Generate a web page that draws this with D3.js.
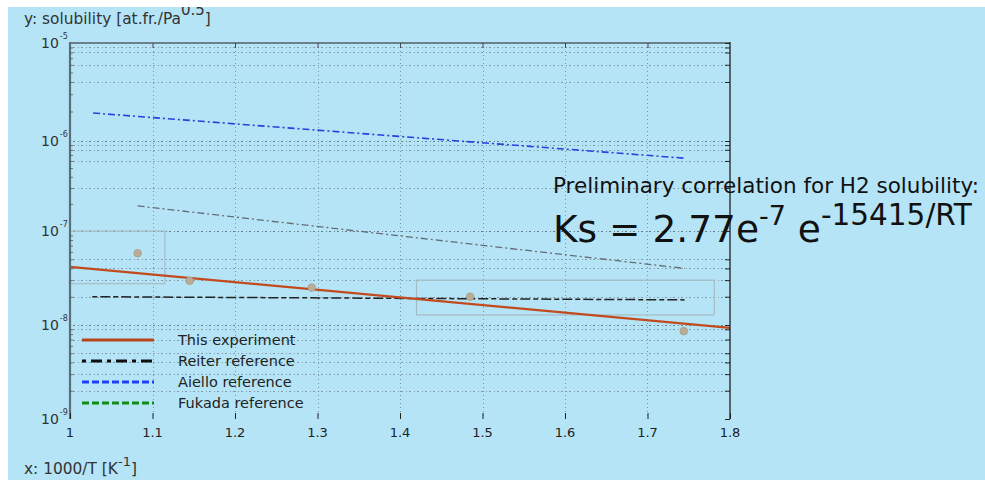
<!DOCTYPE html>
<html><head><meta charset="utf-8">
<script src="https://cdn.jsdelivr.net/npm/d3@7"></script>
<style>
html,body{margin:0;padding:0;background:#fff;}
svg{display:block;}
text{font-family:"DejaVu Sans",Verdana,sans-serif;}
</style></head>
<body><svg id="c" width="985" height="480"></svg>
<script>
// ---- data ----
const xTicks = [1, 1.1, 1.2, 1.3, 1.4, 1.5, 1.6, 1.7, 1.8];
const xTickLabels = ["1", "1.1", "1.2", "1.3", "1.4", "1.5", "1.6", "1.7", "1.8"];
const yTickExps = [-5, -6, -7, -8, -9];
const yGridVals = [9e-6, 8e-6, 6e-6, 4e-6, 9e-7, 8e-7, 6e-7, 3e-7, 5e-8, 4e-8, 3e-8, 2e-8, 9e-9, 7e-9, 5e-9, 4e-9, 3e-9, 2e-9];
const measX = [1.082, 1.145, 1.293, 1.485, 1.744];
const measY = [5.8e-8, 2.95e-8, 2.5e-8, 2.0e-8, 8.6e-9];
const fitX = [1.0, 1.8];
const fitY = [4.15e-8, 9.3e-9];
const reiterX = [1.027, 1.745];
const reiterY = [2.0e-8, 1.85e-8];
const aielloX = [1.028, 1.744];
const aielloY = [1.93e-6, 6.45e-7];
const fukadaX = [1.082, 1.745];
const fukadaY = [1.9e-7, 4.0e-8];
const boxX0 = [1.0, 1.42];
const boxX1 = [1.115, 1.781];
const boxY0 = [1.0e-7, 3.0e-8];
const boxY1 = [2.75e-8, 1.28e-8];
const legendLabels = ["This experiment", "Reiter reference", "Aiello reference", "Fukada reference"];

// ---- layout ----
const svg = d3.select("#c");
const W = 985, H = 480;
const L = 70, R = 730, T = 43, B = 419;
const x = d3.scaleLinear().domain([1, 1.8]).range([L, R]);
const majorVals = yTickExps.map(e => Math.pow(10, e));
const y = d3.scaleLog().domain(majorVals.slice().reverse()).range([B, 325, 231, 141, T]);

svg.append("rect").attr("width", W).attr("height", H).attr("fill", "#b5e4f7");

// grid
const grid = svg.append("g");
const minorVals = [];
for (let e = -9; e < -5; e++) for (let m = 2; m <= 9; m++) minorVals.push(m * Math.pow(10, e));
grid.selectAll("line.hm").data(yGridVals).join("line")
  .attr("x1", L).attr("x2", R).attr("y1", d => Math.round(y(d)) + 0.5).attr("y2", d => Math.round(y(d)) + 0.5)
  .attr("stroke", "#55616b").attr("stroke-opacity", 0.55).attr("stroke-width", 1)
  .attr("stroke-dasharray", "1,2,2,3");
grid.selectAll("line.hM").data(majorVals.slice(1, 4)).join("line")
  .attr("x1", L).attr("x2", R).attr("y1", d => Math.round(y(d)) + 0.5).attr("y2", d => Math.round(y(d)) + 0.5)
  .attr("stroke", "#3a4650").attr("stroke-opacity", 0.65).attr("stroke-width", 1)
  .attr("stroke-dasharray", "1,2,2,3");
grid.selectAll("line.v").data(xTicks.slice(1, 8)).join("line")
  .attr("x1", d => Math.round(x(d)) + 0.5).attr("x2", d => Math.round(x(d)) + 0.5).attr("y1", T).attr("y2", B)
  .attr("stroke", "#4a5660").attr("stroke-opacity", 0.55).attr("stroke-width", 1)
  .attr("stroke-dasharray", "1,3");

// boxes
svg.append("g").selectAll("rect").data(boxX0).join("rect")
  .attr("x", (d, i) => x(d)).attr("y", (d, i) => y(boxY0[i]))
  .attr("width", (d, i) => x(boxX1[i]) - x(d)).attr("height", (d, i) => y(boxY1[i]) - y(boxY0[i]))
  .attr("fill", "none").attr("stroke", "#a6bcc4").attr("stroke-width", 1.2);

// annotation text (under frame)
const ann = svg.append("g").attr("fill", "#111");
ann.append("text").attr("x", 553).attr("y", 193).attr("font-size", 21.5)
  .text("Preliminary correlation for H2 solubility:");
const t2 = ann.append("text").attr("x", 553).attr("y", 242).attr("font-size", 37.5);
t2.append("tspan").text("Ks = 2.77e");
t2.append("tspan").attr("font-size", 27).attr("dy", -17).text("-7");
t2.append("tspan").attr("dy", 17).text(" e");
t2.append("tspan").attr("font-size", 29.5).attr("dy", -17).text("-15415/RT");

// series lines
const lineGen = d3.line().x(d => x(d[0])).y(d => y(d[1]));
const zipS = (xs, ys) => xs.map((v, i) => [v, ys[i]]);
svg.append("path").datum(zipS(aielloX, aielloY)).attr("d", lineGen)
  .attr("fill", "none").attr("stroke", "#2740e0").attr("stroke-width", 1.6).attr("stroke-dasharray", "7,3,2,3");
svg.append("path").datum(zipS(fukadaX, fukadaY)).attr("d", lineGen)
  .attr("fill", "none").attr("stroke", "#646c74").attr("stroke-width", 1.3).attr("stroke-dasharray", "7,3,2,3");
svg.append("path").datum(zipS(reiterX, reiterY)).attr("d", lineGen)
  .attr("fill", "none").attr("stroke", "#222").attr("stroke-width", 1.5).attr("stroke-dasharray", "5,3,10,3");
svg.append("path").datum(zipS(fitX, fitY)).attr("d", lineGen)
  .attr("fill", "none").attr("stroke", "#c24a1c").attr("stroke-width", 2.2);

// measured points
svg.append("g").selectAll("circle").data(measX).join("circle")
  .attr("cx", d => x(d)).attr("cy", (d, i) => y(measY[i])).attr("r", 3.8)
  .attr("fill", "#b9ad98").attr("stroke", "#a89c88").attr("stroke-width", 0.8);

// frame
svg.append("line").attr("x1", L).attr("x2", R).attr("y1", T).attr("y2", T)
  .attr("stroke", "#6b7f8b").attr("stroke-width", 2);
svg.append("line").attr("x1", L).attr("x2", L).attr("y1", T - 1).attr("y2", B)
  .attr("stroke", "#5b6f7b").attr("stroke-width", 2.2);
svg.append("line").attr("x1", R).attr("x2", R).attr("y1", T - 1).attr("y2", B)
  .attr("stroke", "#111").attr("stroke-width", 1.2);

// axes ticks
const xAxB = d3.axisBottom(x).tickValues(xTicks).tickSize(-6).tickFormat("");
svg.append("g").attr("transform", `translate(0,${B})`).call(xAxB)
  .call(g => { g.select(".domain").remove(); g.selectAll("line").attr("stroke", "#222"); });
const xAxT = d3.axisTop(x).tickValues(xTicks.slice(1, 8)).tickSize(-5).tickFormat("");
svg.append("g").attr("transform", `translate(0,${T})`).call(xAxT)
  .call(g => { g.select(".domain").remove(); g.selectAll("line").attr("stroke", "#445"); });
const yAxL = d3.axisLeft(y).tickValues(minorVals).tickSize(-3).tickFormat("");
svg.append("g").attr("transform", `translate(${L},0)`).call(yAxL)
  .call(g => { g.select(".domain").remove(); g.selectAll("line").attr("stroke", "#444").attr("stroke-opacity", 0.7); });
const yAxR = d3.axisRight(y).tickValues(yGridVals.concat(majorVals)).tickSize(-5).tickFormat("");
svg.append("g").attr("transform", `translate(${R},0)`).call(yAxR)
  .call(g => { g.select(".domain").remove(); g.selectAll("line").attr("stroke", "#222"); });

// x tick labels
svg.append("g").selectAll("text").data(xTicks).join("text")
  .attr("x", d => x(d)).attr("y", 437).attr("text-anchor", "middle")
  .attr("font-size", 13).attr("fill", "#222").text((d, i) => xTickLabels[i]);

// y tick labels
const yl = svg.append("g").selectAll("text").data(yTickExps).join("text")
  .attr("x", 41).attr("y", d => y(Math.pow(10, d)) + 5).attr("font-size", 14).attr("fill", "#333");
yl.append("tspan").text("10");
yl.append("tspan").attr("font-size", 8).attr("dy", -9).attr("dx", 1).text(d => String(d));

// legend
const lg = svg.append("g");
const lgY = [340, 361, 382, 403];
const lgStyles = [
  {c: "#b5471a", dash: null, w: 3.2},
  {c: "#111", dash: "4,5,11,5", w: 3},
  {c: "#1f3ff5", dash: "7,3", w: 3},
  {c: "#118a18", dash: "7,3", w: 3}
];
lg.selectAll("line").data(legendLabels).join("line")
  .attr("x1", 82).attr("x2", 154).attr("y1", (d, i) => lgY[i]).attr("y2", (d, i) => lgY[i])
  .attr("stroke", (d, i) => lgStyles[i].c).attr("stroke-width", (d, i) => lgStyles[i].w)
  .attr("stroke-dasharray", (d, i) => lgStyles[i].dash);
lg.selectAll("text").data(legendLabels).join("text")
  .attr("x", 178).attr("y", (d, i) => lgY[i] + 5).attr("font-size", 14.5).attr("fill", "#222").text(d => d);

// axis titles
const yt = svg.append("text").attr("x", 24).attr("y", 24).attr("font-size", 15.4).attr("fill", "#333");
yt.append("tspan").text("y: solubility [at.fr./Pa");
yt.append("tspan").attr("font-size", 15).attr("dy", -9).text("0.5");
yt.append("tspan").attr("dy", 9).text("]");
const xt = svg.append("text").attr("x", 24).attr("y", 474).attr("font-size", 15.4).attr("fill", "#333");
xt.append("tspan").text("x: 1000/T [K");
xt.append("tspan").attr("font-size", 13).attr("dy", -8).text("-1");
xt.append("tspan").attr("dy", 8).text("]");

// white edge bands
svg.append("rect").attr("x", 0).attr("y", 0).attr("width", W).attr("height", 7).attr("fill", "#fff");
svg.append("rect").attr("x", 0).attr("y", 0).attr("width", 8).attr("height", H).attr("fill", "#fff");
</script></body></html>
